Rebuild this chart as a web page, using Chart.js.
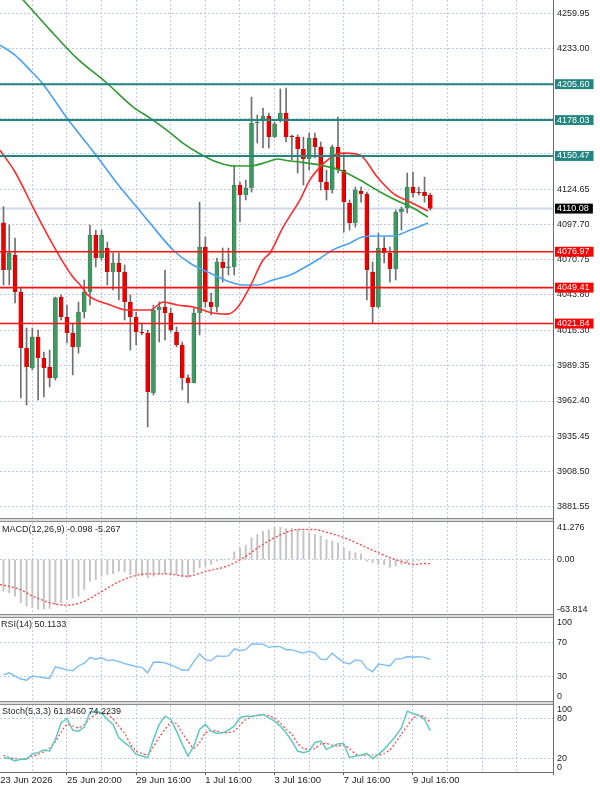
<!DOCTYPE html>
<html><head><meta charset="utf-8">
<script src="https://cdn.jsdelivr.net/npm/chart.js@4.4.1/dist/chart.umd.min.js"></script>
<style>
html,body{margin:0;padding:0;background:#fff;}
#wrap{position:relative;width:600px;height:787px;overflow:hidden;background:#fff;}
canvas{position:absolute;left:0;display:block;}
.sep{position:absolute;left:0;width:554px;height:2px;background:#dcdcdc;border-top:1px solid #8c8c8c;border-bottom:1px solid #8c8c8c;}
#vaxis{position:absolute;left:553px;top:0;width:1px;height:775px;background:#6b6b6b;}
</style></head><body>
<div id="wrap">
  <canvas id="cMain" width="600" height="518" style="top:0"></canvas>
  <div class="sep" style="top:518px"></div>
  <canvas id="cMacd" width="600" height="92" style="top:522px"></canvas>
  <div class="sep" style="top:614px"></div>
  <canvas id="cRsi" width="600" height="83" style="top:618px"></canvas>
  <div class="sep" style="top:701px"></div>
  <canvas id="cSto" width="600" height="82" style="top:705px"></canvas>
  <div id="vaxis"></div>
</div>
<script>
// ---------------- DATA ----------------
const opens  = [4099.2,4062.9,4074.5,4046.1,4003.1,3987.7,4011.5,3995.4,3988.5,3980.1,
                4042.2,4026.9,4014.6,4003.9,4030.7,4046.1,4089.8,4072.2,4079.8,4061.4,
                4068.3,4061.4,4038.4,4026.9,4015.4,4014.6,3968.5,4032.2,4034.5,4029.9,
                4015.4,4005.4,3980.1,3976.2,4029.9,4080.6,4038.4,4034.5,4069.1,4064.5,
                4065.3,4128.2,4120.5,4125.9,4175.8,4177.3,4181.1,4165.0,4178.1,4183.4,
                4165.8,4165.0,4155.8,4148.1,4164.3,4157.3,4130.5,4124.3,4157.3,4139.7,
                4114.4,4099.0,4123.6,4121.3,4061.4,4034.5,4079.8,4076.0,4063.7,4107.5,
                4110.5,4126.6,4122.8,4122.8,4120.5];
const highs  = [4111.5,4097.5,4087.5,4049.1,4018.4,4018.4,4016.9,4000.0,4001.5,4042.2,
                4043.8,4036.1,4022.3,4038.4,4055.3,4097.5,4093.6,4093.6,4084.4,4076.0,
                4076.0,4066.8,4043.8,4030.7,4022.3,4016.9,4036.1,4038.4,4062.9,4033.8,
                4019.2,4007.7,3982.4,4033.8,4115.1,4088.3,4045.3,4072.2,4079.8,4079.8,
                4143.5,4130.5,4132.0,4195.7,4181.9,4187.3,4183.4,4176.5,4201.9,4202.6,
                4166.6,4166.6,4165.0,4168.1,4168.1,4161.2,4139.7,4158.9,4180.4,4152.7,
                4116.7,4126.6,4126.6,4122.8,4069.1,4091.3,4088.3,4080.6,4109.0,4111.3,
                4137.4,4138.2,4126.6,4134.3,4122.0];
const lows   = [4051.4,4051.4,4037.6,3964.7,3959.3,3986.2,3963.2,3965.5,3973.2,3978.5,
                4024.6,4006.9,3982.4,3999.2,4026.1,4036.1,4065.3,4070.6,4051.4,4047.6,
                4039.9,4024.6,4001.5,4005.4,4013.1,3942.5,3967.0,4007.7,4009.2,4015.4,
                4003.9,3970.9,3960.9,3976.2,4013.1,4034.5,4028.4,4030.7,4053.7,4059.1,
                4059.1,4099.8,4116.7,4122.8,4160.4,4156.6,4156.6,4164.3,4176.5,4161.2,
                4147.4,4137.4,4128.2,4139.7,4148.9,4124.3,4116.7,4122.0,4137.4,4092.1,
                4093.6,4095.9,4115.1,4039.9,4022.3,4033.8,4068.3,4053.7,4055.3,4093.6,
                4106.7,4119.0,4120.5,4115.1,4108.9];
const closes = [4062.9,4076.0,4046.1,4003.1,3988.5,4011.5,3995.4,3987.7,3980.1,4041.5,
                4026.9,4014.6,4003.9,4030.7,4046.1,4089.8,4072.2,4089.8,4061.4,4068.3,
                4061.4,4038.4,4026.9,4015.4,4014.6,3969.3,4032.2,4034.5,4029.9,4016.9,
                4005.4,3980.1,3976.2,4029.9,4080.6,4038.4,4034.5,4069.1,4064.5,4065.3,
                4128.2,4120.5,4125.9,4175.8,4176.5,4181.1,4165.0,4175.0,4183.4,4165.0,
                4165.0,4155.8,4148.1,4164.3,4157.3,4130.5,4124.3,4157.3,4139.7,4115.1,
                4099.0,4124.3,4121.3,4062.9,4034.5,4079.8,4076.0,4063.7,4107.5,4109.8,
                4126.6,4122.0,4122.0,4119.7,4110.08];

// moving averages (bar index, price)
const maRedIdx   = [-0.6,2.0,5.1,6.7,8.1,10.1,11.9,13.6,14.6,18.5,21.4,25.4,27.7,30.1,32.9,34.6,36.3,38.8,40.5,42.7,45.0,46.2,48.5,51.4,53.1,54.9,56.6,57.8,59.2,61.8,64.8,67.5,70.5,73.6];
const maRedVal   = [4155.0,4138.2,4111.3,4097.5,4086.0,4070.6,4058.3,4049.9,4043.8,4036.1,4032.2,4032.2,4038.4,4036.1,4034.5,4032.2,4029.9,4029.1,4033.8,4049.9,4070.6,4076.0,4096.0,4116.7,4132.0,4142.0,4148.9,4152.0,4152.7,4151.2,4134.3,4122.0,4115.1,4108.2];
const maBlueIdx  = [-0.6,2.0,4.6,6.7,11.0,15.9,20.2,23.1,25.4,29.4,32.3,35.8,39.3,41.5,44.0,46.7,49.7,51.4,54.4,57.1,60.1,62.2,64.8,67.5,70.5,73.6];
const maBlueVal  = [4235.6,4227.9,4216.4,4206.5,4179.6,4152.0,4126.6,4111.3,4099.0,4078.3,4068.3,4060.6,4053.7,4051.4,4051.4,4055.3,4059.1,4062.9,4070.6,4078.3,4083.7,4088.3,4089.0,4089.0,4093.6,4099.0];
const maGreenIdx = [-0.6,3.4,8.1,12.7,17.9,22.5,25.4,28.3,31.1,34.1,37.0,39.8,42.7,45.7,47.4,49.7,51.4,54.9,58.3,61.8,65.3,68.7,71.0,73.6];
const maGreenVal = [4289.3,4270.2,4247.1,4225.6,4206.5,4188.0,4179.6,4170.4,4160.4,4152.0,4145.8,4142.8,4142.8,4145.8,4148.1,4146.6,4145.8,4143.5,4139.7,4132.0,4122.8,4115.1,4110.5,4103.6];

// horizontal levels
const resistLevels = [4205.60, 4178.03, 4150.47];
const supportLevels = [4076.97, 4049.41, 4021.84];
const lastPrice = 4110.08;
const priceTicks = [4259.95,4233.00,4206.05,4179.10,4152.15,4124.65,4097.70,4070.75,4043.80,4016.30,3989.35,3962.40,3935.45,3908.50,3881.55];
const hiddenPriceTicks = [4206.05,4179.10,4152.15];

// MACD
const macdHist = [-40.5,-42.5,-46.9,-55.3,-59.6,-61.7,-63.814,-63.2,-62.5,-57.5,
                  -55.3,-51.1,-48.9,-46.9,-38.3,-27.7,-25.5,-21.3,-19.2,-18.3,
                  -14.9,-15.7,-19.2,-21.3,-21.3,-23.4,-21.3,-19.2,-18.3,-19.2,
                  -19.2,-21.3,-23.4,-17.0,-10.6,-8.6,-6.4,-2.2,-0.5,1.3,
                  9.8,14.9,18.3,27.7,31.9,36.1,38.3,41.276,41.0,39.6,
                  39.6,38.3,36.1,34.1,31.9,29.8,25.5,23.4,21.3,14.9,
                  10.6,8.6,7.3,-2.0,-4.2,-6.4,-6.4,-9.8,-8.6,-6.4,
                  -4.2,-2.2,-1.3,-0.6,-0.098];
const macdSigIdx = [-0.6,2.9,5.1,8.1,11.0,13.8,16.7,19.6,22.5,24.8,28.3,31.8,35.2,38.7,41.6,44.5,47.9,51.1,53.8,56.4,59.1,61.8,64.4,67.1,69.7,71.1,73.0,74];
const macdSigVal = [-31.9,-38.3,-46.9,-55.3,-58.4,-54.0,-42.5,-29.8,-21.3,-18.3,-18.3,-21.3,-14.9,-8.6,2.2,17.0,31.0,38.3,38.3,34.1,27.7,19.2,10.6,2.2,-4.2,-6.4,-5.1,-5.267];
const macdTicks = [41.276, 0, -63.814];
const macdTickText = ['41.276', '0.00', '-63.814'];

// RSI
const rsi = [31.5,34.0,30.0,26.5,25.1,30.0,29.1,28.0,27.2,41.3,
             39.4,37.5,36.5,42.2,45.5,52.4,50.4,52.4,48.7,49.5,
             47.5,45.0,43.4,41.5,40.6,34.0,46.7,46.9,46.0,43.4,
             40.5,37.3,37.0,47.5,56.9,49.5,48.7,54.4,53.8,54.4,
             63.0,60.9,61.8,68.7,68.7,68.5,64.6,65.8,65.5,61.8,
             61.8,59.5,57.7,59.7,57.7,50.4,50.0,57.7,51.6,46.5,
             44.6,49.5,48.7,39.4,35.2,44.6,43.5,42.2,50.8,50.8,
             53.6,52.8,53.4,52.6,50.1133];
const rsiTicks = [100, 70, 30, 0];

// Stochastic
const stochK = [21.4,20.4,16.4,18.9,18.9,27.4,28.9,32.7,31.3,48.7,
                73.5,79.5,62.5,61.0,67.0,89.3,90.8,88.4,78.4,71.0,
                51.2,43.8,37.2,26.3,23.8,21.4,48.7,71.0,83.3,78.4,
                61.0,41.2,23.8,38.7,63.5,71.0,61.0,57.6,58.6,62.5,
                68.5,81.0,83.3,83.3,84.4,85.9,81.0,75.9,68.5,58.6,
                46.1,31.3,28.9,31.3,43.8,46.1,33.8,37.8,42.3,42.3,
                21.4,23.8,24.9,27.8,19.9,26.3,33.8,43.8,53.6,66.1,
                90.8,87.4,84.4,78.4,61.846];
const stochD = [25,21.5,20,19,20.5,23.5,26.5,30,36,45,
                60,71,69,66,71,80,86,88.4,86,79,
                68.5,58,42,31,27.8,25.5,38,52,63.5,74,
                72,58,46.1,35.3,44,58,62,61,58.5,59,
                61,70,78,82,85,85.9,84.5,80,73,64,
                56.1,43,35,33.8,35,42,42.5,40,38.7,40.5,
                35,27,24.9,25.5,25.5,25,27.8,33,44,57,
                68.5,80,85,82,74.2239];
const stochTicks = [100, 80, 20, 0];

// time axis (bar index of each grid line, and its label)
const xTickIdx  = [-0.55, 5, 11, 17, 23, 29, 35, 41, 47, 53, 59, 65, 71, 77, 83, 89];
const xTickText = ['23 Jun 2026','','25 Jun 20:00','','29 Jun 16:00','','1 Jul 16:00','','3 Jul 16:00','','7 Jul 16:00','','9 Jul 16:00','','',''];

// ---------------- STYLE ----------------
const FONT = '"Liberation Sans", Arial, sans-serif';
const GRID = '#bdcbe6';
const TEAL = '#22857f';
const LRED = '#ff1010';
const X_MIN = -0.6068, X_MAX = 95.274;
const Y_MIN = 3872.6, Y_MAX = 4270.2;
const AXIS_W = 47;
const CLEAR = 'rgba(0,0,0,0)';

const panelTitle = {
  id: 'panelTitle',
  afterDraw(chart, args, opts) {
    if (!opts || !opts.text) return;
    const c = chart.ctx; c.save();
    c.font = '9px ' + FONT; c.fillStyle = '#1e1e1e';
    c.textBaseline = 'middle'; c.textAlign = 'left';
    c.fillText(opts.text, opts.x, opts.y); c.restore();
  }
};

function xLabelFor(v) { const k = xTickIdx.indexOf(v); return k < 0 ? '' : xTickText[k]; }

function xScale(showLabels) {
  return {
    type: 'linear', min: X_MIN, max: X_MAX, offset: false, bounds: 'data',
    afterBuildTicks: s => { s.ticks = xTickIdx.map(v => ({ value: v })); },
    afterFit: s => { s.paddingLeft = 0; s.paddingRight = 0; s.paddingTop = 0; s.paddingBottom = 0; s.height = showLabels ? 15 : 0; },
    grid: {
      offset: false, lineWidth: 1, drawTicks: showLabels, tickLength: 3, tickWidth: 1,
      color: c => (c.tick && c.tick.value > 0) ? GRID : CLEAR,
      tickColor: c => (c.tick && c.tick.value > 0 && xLabelFor(c.tick.value)) ? '#555' : CLEAR,
      tickBorderDash: []
    },
    border: { display: showLabels, color: '#6b6b6b', width: 1, dash: [2, 2] },
    ticks: {
      display: showLabels, autoSkip: false, maxRotation: 0, minRotation: 0, align: 'start',
      padding: 0, color: '#222', font: { family: FONT, size: 9.5 },
      callback: v => xLabelFor(v)
    }
  };
}

function yScale(min, max, ticks, labelFn, gridFn, extra) {
  return Object.assign({
    position: 'right', min, max, bounds: 'data', beginAtZero: false,
    afterBuildTicks: s => { s.ticks = ticks.map(v => ({ value: v })); },
    afterFit: s => { s.width = AXIS_W; s.paddingTop = 0; s.paddingBottom = 0; },
    grid: { drawTicks: false, lineWidth: 1, color: c => (c.tick && gridFn(c.tick.value)) ? GRID : CLEAR },
    border: { display: true, color: '#6b6b6b', width: 1, dash: [2, 2] },
    ticks: { autoSkip: false, padding: 4, color: '#222', font: { family: FONT, size: 9, lineHeight: 1.1 }, callback: v => labelFn(v) }
  }, extra || {});
}

function base(title, tx, ty) {
  return {
    responsive: false, animation: false, events: [], devicePixelRatio: 1,
    layout: { padding: 0 },
    plugins: { legend: { display: false }, tooltip: { enabled: false }, panelTitle: { text: title, x: tx, y: ty } }
  };
}

const idx = closes.map((_, i) => i);
const pts = (xs, ys) => xs.map((x, k) => ({ x, y: ys[k] }));
const hline = v => [{ x: X_MIN, y: v }, { x: X_MAX, y: v }];

// ---------------- MAIN PRICE CHART ----------------
const levelAll = resistLevels.concat([lastPrice]).concat(supportLevels);
const levelBg = v => resistLevels.includes(v) ? TEAL : (supportLevels.includes(v) ? '#ff0000' : (v === lastPrice ? '#000000' : CLEAR));

const mainDatasets = [
  { type: 'line', data: hline(lastPrice), borderColor: '#cfd8ea', borderWidth: 2, pointRadius: 0, order: 9 },
  { type: 'bar', data: idx.map(i => ({ x: i, y: [lows[i], highs[i]] })), backgroundColor: '#707070', barThickness: 1, grouped: false, order: 8 },
  { type: 'bar', data: idx.map(i => ({ x: i, y: [opens[i], closes[i]] })),
    backgroundColor: idx.map(i => closes[i] >= opens[i] ? '#3f9a62' : '#ee0000'),
    borderColor: idx.map(i => closes[i] >= opens[i] ? '#2f7049' : '#a00000'),
    borderWidth: 0.6, barThickness: 4, grouped: false, minBarLength: 1, order: 7 },
  { type: 'line', data: pts(maBlueIdx, maBlueVal), borderColor: '#48a2f2', borderWidth: 1.6, pointRadius: 0, cubicInterpolationMode: 'monotone', order: 4 },
  { type: 'line', data: pts(maGreenIdx, maGreenVal), borderColor: '#2f9a2f', borderWidth: 1.6, pointRadius: 0, cubicInterpolationMode: 'monotone', order: 3 },
  { type: 'line', data: pts(maRedIdx, maRedVal), borderColor: '#ff2a2a', borderWidth: 1.6, pointRadius: 0, cubicInterpolationMode: 'monotone', order: 2 }
];
resistLevels.forEach(v => mainDatasets.push({ type: 'line', data: hline(v), borderColor: TEAL, borderWidth: 2, pointRadius: 0, order: 0 }));
supportLevels.forEach(v => mainDatasets.push({ type: 'line', data: hline(v), borderColor: LRED, borderWidth: 1.6, pointRadius: 0, order: 0 }));

const mainY = yScale(Y_MIN, Y_MAX, priceTicks.concat(levelAll),
  v => hiddenPriceTicks.includes(v) ? '' : v.toFixed(2),
  v => !levelAll.includes(v));
mainY.ticks.color = c => levelAll.includes(c.tick.value) ? '#ffffff' : '#222';
mainY.ticks.showLabelBackdrop = true;
mainY.ticks.backdropColor = c => levelBg(c.tick.value);
mainY.ticks.backdropPadding = { top: 0, bottom: 0, left: 2, right: 4 };

new Chart(document.getElementById('cMain'), {
  type: 'bar',
  data: { datasets: mainDatasets },
  options: Object.assign(base(''), { scales: { x: xScale(false), y: mainY } })
});

// ---------------- MACD ----------------
new Chart(document.getElementById('cMacd'), {
  type: 'bar',
  data: { datasets: [
    { type: 'line', data: pts(macdSigIdx, macdSigVal), borderColor: '#ff4b4b', borderWidth: 1.4, borderDash: [2, 2], pointRadius: 0, cubicInterpolationMode: 'monotone', order: 0 },
    { type: 'bar', data: idx.map(i => ({ x: i, y: macdHist[i] })), backgroundColor: '#c4c4c4', barThickness: 1.3, grouped: false, order: 1 }
  ] },
  options: Object.assign(base('MACD(12,26,9) -0.098 -5.267', 2, 7.5), {
    scales: { x: xScale(false), y: yScale(-69.6, 47.9, macdTicks, v => macdTickText[macdTicks.indexOf(v)] || '', v => v === 0) }
  }),
  plugins: [panelTitle]
});

// ---------------- RSI ----------------
new Chart(document.getElementById('cRsi'), {
  type: 'line',
  data: { datasets: [
    { data: idx.map(i => ({ x: i, y: rsi[i] })), borderColor: '#7dbdf6', borderWidth: 1.4, pointRadius: 0, tension: 0 }
  ] },
  options: Object.assign(base('RSI(14) 50.1133', 1, 7), {
    scales: { x: xScale(false), y: yScale(0, 100, rsiTicks, v => v === 100 ? ['', '100'] : (v === 0 ? ['0', ''] : String(v)), v => v === 70 || v === 30) }
  }),
  plugins: [panelTitle]
});

// ---------------- STOCHASTIC ----------------
new Chart(document.getElementById('cSto'), {
  type: 'line',
  data: { datasets: [
    { data: idx.map(i => ({ x: i, y: stochD[i] })), borderColor: '#ff4b4b', borderWidth: 1.3, borderDash: [2, 2], pointRadius: 0, tension: 0.2, order: 1 },
    { data: idx.map(i => ({ x: i, y: stochK[i] })), borderColor: '#5ccac2', borderWidth: 1.5, pointRadius: 0, tension: 0, order: 0 }
  ] },
  options: Object.assign(base('Stoch(5,3,3) 61.8460 74.2239', 2, 6.5), {
    scales: { x: xScale(true), y: yScale(0, 100, stochTicks, v => v === 100 ? ['', '100'] : (v === 0 ? ['0', ''] : String(v)), v => v === 80 || v === 20) }
  }),
  plugins: [panelTitle]
});
</script>
</body></html>
